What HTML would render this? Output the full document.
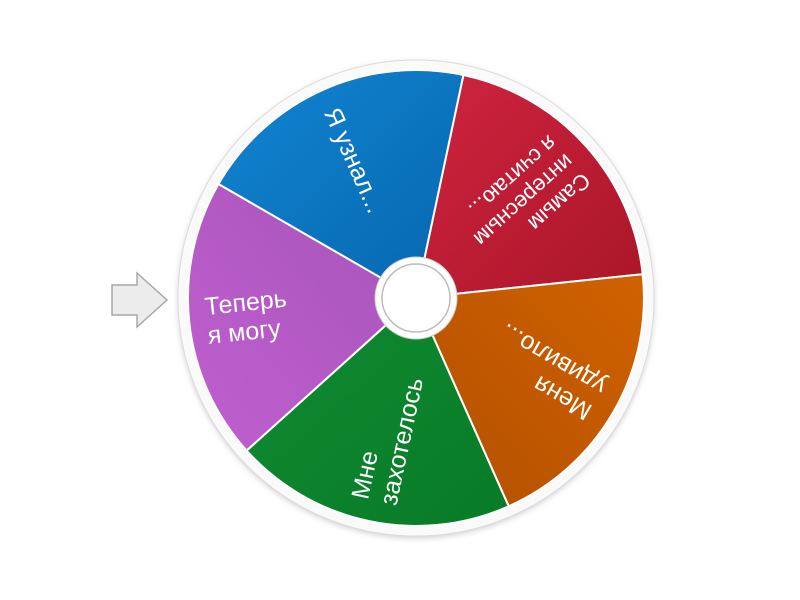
<!DOCTYPE html>
<html><head><meta charset="utf-8"><style>
html,body{margin:0;padding:0;background:#fff;}
svg{display:block;}
text{font-family:"Liberation Sans","DejaVu Sans",sans-serif;fill:#fff;}
</style></head><body>
<svg width="800" height="600" viewBox="0 0 800 600" xmlns="http://www.w3.org/2000/svg">
<defs>
<filter id="sh" x="-20%" y="-20%" width="140%" height="140%"><feGaussianBlur stdDeviation="3"/></filter>
<linearGradient id="gb" x1="0" y1="0" x2="1" y2="1"><stop offset="0" stop-color="#1285d2"/><stop offset="1" stop-color="#0566ae"/></linearGradient>
<linearGradient id="gr" x1="0" y1="0" x2="1" y2="1"><stop offset="0" stop-color="#cf2440"/><stop offset="1" stop-color="#aa1628"/></linearGradient>
<linearGradient id="go" x1="1" y1="0" x2="0" y2="1"><stop offset="0" stop-color="#d06200"/><stop offset="1" stop-color="#b24f00"/></linearGradient>
<linearGradient id="gg" x1="0" y1="0" x2="1" y2="1"><stop offset="0" stop-color="#0f8c32"/><stop offset="1" stop-color="#087a26"/></linearGradient>
<linearGradient id="gp" x1="0" y1="1" x2="1" y2="0"><stop offset="0" stop-color="#c05fd0"/><stop offset="1" stop-color="#a654b8"/></linearGradient>
</defs>
<circle cx="416" cy="300" r="238" fill="#cfcfcf" filter="url(#sh)"/>
<circle cx="416" cy="298" r="238" fill="#fafafa" stroke="#dcdcdc" stroke-width="1"/>
<g stroke="#fff" stroke-width="2">
<path d="M416 298 L463.4 75 A228 228 0 0 1 642.7 274.2 Z" fill="url(#gr)"/>
<path d="M416 298 L642.7 274.2 A228 228 0 0 1 508.7 506.3 Z" fill="url(#go)"/>
<path d="M416 298 L508.7 506.3 A228 228 0 0 1 246.6 450.6 Z" fill="url(#gg)"/>
<path d="M416 298 L246.6 450.6 A228 228 0 0 1 218.5 184 Z" fill="url(#gp)"/>
<path d="M416 298 L218.5 184 A228 228 0 0 1 463.4 75 Z" fill="url(#gb)"/>
</g>
<g font-size="25">
<g transform="translate(416,298) rotate(-6)"><text x="-211" y="-5">Теперь</text><text x="-211" y="24">я могу</text></g>
<g transform="translate(416,298) rotate(66)"><text x="-207" y="9">Я узнал...</text></g>
<g transform="translate(416,298) rotate(138)" font-size="22"><text x="-208" y="-17">Самым</text><text x="-208" y="8">интересным</text><text x="-208" y="33">я считаю...</text></g>
<g transform="translate(416,298) rotate(210)"><text x="-208" y="-5">Меня</text><text x="-208" y="24">удивило...</text></g>
<g transform="translate(416,298) rotate(282)"><text x="-208" y="-5">Мне</text><text x="-208" y="24">захотелось</text></g>
</g>
<circle cx="416" cy="298" r="41" fill="#fff" stroke="#cfcfcf" stroke-width="1"/>
<circle cx="416" cy="298" r="34" fill="#fff" stroke="#bdbdbd" stroke-width="1.5"/>
<path d="M112 285 L137 285 L137 273 L167 300 L137 327 L137 315 L112 315 Z" fill="#ececec" stroke="#a8a8a8" stroke-width="1.5"/>
</svg>
</body></html>
